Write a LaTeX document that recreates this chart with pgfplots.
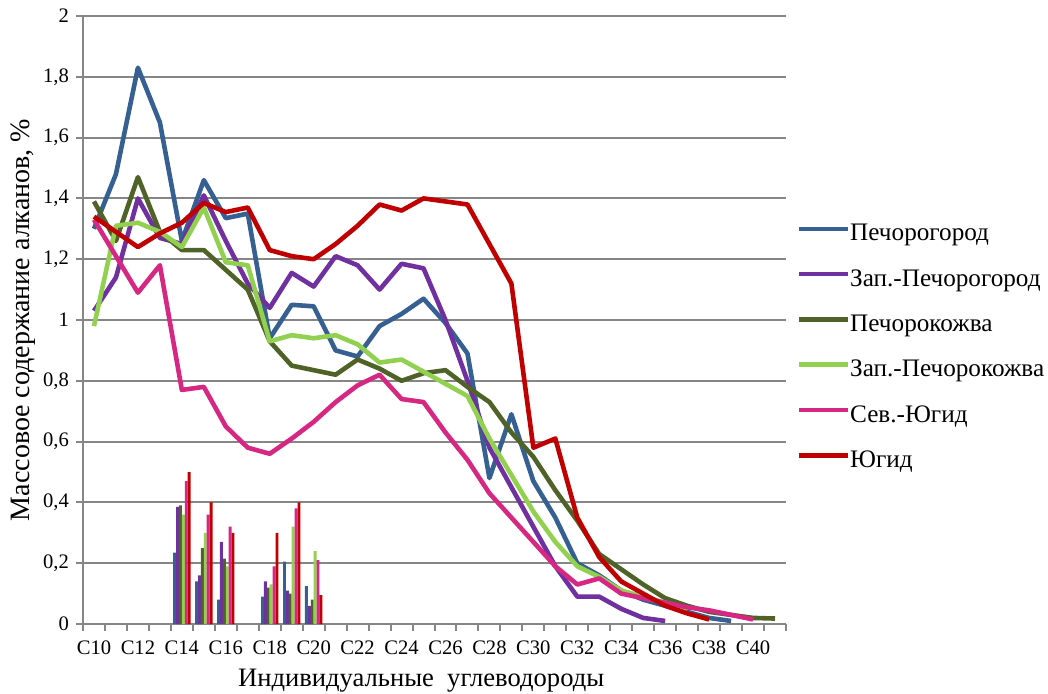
\documentclass[border=0pt]{standalone}
\usepackage{fontspec}
\setmainfont{Liberation Serif}
\usepackage{pgfplots}
\pgfplotsset{compat=1.18}

\definecolor{gridgray}{RGB}{134,134,134}
\definecolor{cPgor}{RGB}{55,96,146}
\definecolor{cZPgor}{RGB}{112,48,160}
\definecolor{cPkozh}{RGB}{79,98,40}
\definecolor{cZPkozh}{RGB}{146,208,80}
\definecolor{cSYug}{RGB}{214,40,130}
\definecolor{cYug}{RGB}{192,0,0}

\begin{document}
\begin{tikzpicture}
\useasboundingbox (-41.5pt,-34.5pt) rectangle (482.5pt,312pt);
\begin{axis}[
  at={(0pt,0pt)}, anchor=south west,
  width=351.5pt, height=304pt, scale only axis,
  xmin=-0.5, xmax=31.5, ymin=0, ymax=2,
  axis lines=left,
  axis line style={draw=gridgray, line width=1pt, -},
  tick align=outside,
  major tick length=3.5pt,
  tick style={draw=gridgray, line width=1pt},
  ytick={0,0.2,0.4,0.6,0.8,1,1.2,1.4,1.6,1.8,2},
  yticklabel style={/pgf/number format/use comma, /pgf/number format/assume math mode=true},
  ymajorgrids,
  grid style={draw=gridgray, line width=1pt},
  xtick={-0.5,0.5,...,31.5},
  xticklabels={},
  extra x ticks={0,2,...,30},
  extra x tick labels={C10,C12,C14,C16,C18,C20,C22,C24,C26,C28,C30,C32,C34,C36,C38,C40},
  extra x tick style={major tick length=0pt, xticklabel style={yshift=-5pt}},
  tick label style={font=\fontsize{10.3}{12}\selectfont},
  xlabel={Индивидуальные\ \ углеводороды},
  ylabel={Массовое содержание алканов, \%},
  xlabel style={font=\fontsize{13.3}{15}\selectfont, at={(axis description cs:0.481,0)}, anchor=center, yshift=-28.5pt},
  ylabel style={font=\fontsize{14}{16}\selectfont, at={(axis description cs:-0.0855,0.5)}, anchor=center},
  no markers,
  legend style={at={(axis description cs:1.0145,0.6605)}, anchor=north west,
    draw=none, fill=none, font=\fontsize{12.6}{14}\selectfont,
    row sep=10.65pt, inner sep=0pt,
    nodes={inner sep=0pt, text height=9pt, text depth=3pt}},
  legend cell align=left,
  legend image code/.code={\draw[#1, line width=2.3pt] (0pt,3pt) -- (24.5pt,3pt);},
]
% isoprenoid bars, six samples per group
\addplot[ybar, bar width=1.45pt, bar shift=-3.625pt, fill=cPgor, draw=none, forget plot]
  coordinates {(4,0.235) (5,0.14) (6,0.08) (8,0.09) (9,0.205) (10,0.125)};
\addplot[ybar, bar width=1.45pt, bar shift=-2.175pt, fill=cZPgor, draw=none, forget plot]
  coordinates {(4,0.385) (5,0.16) (6,0.27) (8,0.14) (9,0.11) (10,0.06)};
\addplot[ybar, bar width=1.45pt, bar shift=-0.725pt, fill=cPkozh, draw=none, forget plot]
  coordinates {(4,0.39) (5,0.25) (6,0.215) (8,0.12) (9,0.10) (10,0.08)};
\addplot[ybar, bar width=1.45pt, bar shift=0.725pt, fill=cZPkozh, draw=none, forget plot]
  coordinates {(4,0.36) (5,0.30) (6,0.19) (8,0.13) (9,0.32) (10,0.24)};
\addplot[ybar, bar width=1.45pt, bar shift=2.175pt, fill=cSYug, draw=none, forget plot]
  coordinates {(4,0.47) (5,0.36) (6,0.32) (8,0.19) (9,0.38) (10,0.21)};
\addplot[ybar, bar width=1.45pt, bar shift=3.625pt, fill=cYug, draw=none, forget plot]
  coordinates {(4,0.50) (5,0.40) (6,0.30) (8,0.30) (9,0.40) (10,0.095)};

% n-alkane distributions, C10 = 0 ... C41 = 31
\addplot[cPgor, line width=2.3pt, line join=round] coordinates {
 (0,1.30) (1,1.48) (2,1.83) (3,1.65) (4,1.26) (5,1.46) (6,1.335) (7,1.35)
 (8,0.94) (9,1.05) (10,1.045) (11,0.90) (12,0.88) (13,0.98) (14,1.02) (15,1.07)
 (16,0.99) (17,0.89) (18,0.48) (19,0.69) (20,0.47) (21,0.35) (22,0.20) (23,0.16)
 (24,0.11) (25,0.08) (26,0.06) (27,0.04) (28,0.02) (29,0.01)};
\addlegendentry{Печорогород}
\addplot[cZPgor, line width=2.3pt, line join=round] coordinates {
 (0,1.03) (1,1.14) (2,1.40) (3,1.27) (4,1.25) (5,1.41) (6,1.26) (7,1.12)
 (8,1.04) (9,1.155) (10,1.11) (11,1.21) (12,1.18) (13,1.10) (14,1.185) (15,1.17)
 (16,1.00) (17,0.80) (18,0.58) (19,0.45) (20,0.32) (21,0.19) (22,0.09) (23,0.09)
 (24,0.05) (25,0.02) (26,0.01)};
\addlegendentry{Зап.-Печорогород}
\addplot[cPkozh, line width=2.3pt, line join=round] coordinates {
 (0,1.39) (1,1.26) (2,1.47) (3,1.29) (4,1.23) (5,1.23) (6,1.165) (7,1.10)
 (8,0.93) (9,0.85) (10,0.835) (11,0.82) (12,0.87) (13,0.84) (14,0.80) (15,0.825)
 (16,0.835) (17,0.78) (18,0.73) (19,0.63) (20,0.55) (21,0.44) (22,0.34) (23,0.23)
 (24,0.18) (25,0.13) (26,0.085) (27,0.06) (28,0.04) (29,0.03) (30,0.02) (31,0.018)};
\addlegendentry{Печорокожва}
\addplot[cZPkozh, line width=2.3pt, line join=round] coordinates {
 (0,0.98) (1,1.31) (2,1.32) (3,1.29) (4,1.24) (5,1.37) (6,1.19) (7,1.18)
 (8,0.93) (9,0.95) (10,0.94) (11,0.95) (12,0.92) (13,0.86) (14,0.87) (15,0.83)
 (16,0.79) (17,0.75) (18,0.61) (19,0.49) (20,0.37) (21,0.27) (22,0.19) (23,0.155)
 (24,0.11) (25,0.09) (26,0.07) (27,0.05)};
\addlegendentry{Зап.-Печорокожва}
\addplot[cSYug, line width=2.3pt, line join=round] coordinates {
 (0,1.33) (1,1.21) (2,1.09) (3,1.18) (4,0.77) (5,0.78) (6,0.65) (7,0.58)
 (8,0.56) (9,0.61) (10,0.665) (11,0.73) (12,0.785) (13,0.82) (14,0.74) (15,0.73)
 (16,0.63) (17,0.54) (18,0.43) (19,0.35) (20,0.27) (21,0.19) (22,0.13) (23,0.15)
 (24,0.10) (25,0.085) (26,0.07) (27,0.055) (28,0.045) (29,0.03) (30,0.015)};
\addlegendentry{Сев.-Югид}
\addplot[cYug, line width=2.3pt, line join=round] coordinates {
 (0,1.34) (1,1.29) (2,1.24) (3,1.285) (4,1.32) (5,1.385) (6,1.355) (7,1.37)
 (8,1.23) (9,1.21) (10,1.20) (11,1.25) (12,1.31) (13,1.38) (14,1.36) (15,1.40)
 (16,1.39) (17,1.38) (18,1.25) (19,1.12) (20,0.58) (21,0.61) (22,0.35) (23,0.22)
 (24,0.14) (25,0.10) (26,0.06) (27,0.035) (28,0.015)};
\addlegendentry{Югид}
\end{axis}
\end{tikzpicture}
\end{document}
